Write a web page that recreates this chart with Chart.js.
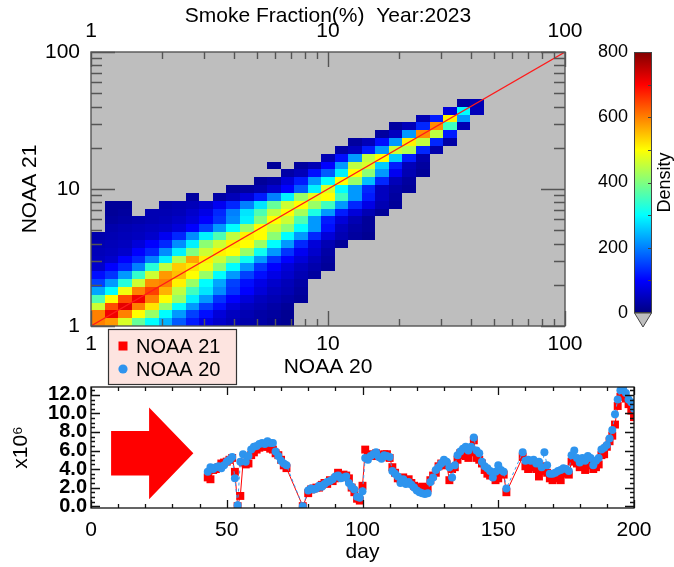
<!DOCTYPE html>
<html>
<head>
<meta charset="utf-8">
<script src="https://cdn.jsdelivr.net/npm/chart.js@4.4.1/dist/chart.umd.min.js"></script>
<style>
  html, body { margin: 0; padding: 0; background: #fff; }
  #page { position: relative; width: 674px; height: 567px; overflow: hidden; }
  #page canvas { position: absolute; }
</style>
</head>
<body>
<div id="page">
  <canvas id="heat" width="674" height="390" style="left:0;top:0"></canvas>
  <canvas id="cbar" width="114" height="300" style="left:560px;top:40px"></canvas>
  <canvas id="series" width="674" height="242" style="left:0;top:325px"></canvas>
</div>
<script>
const FONT = "'Liberation Sans', Arial, Helvetica, sans-serif";
Chart.defaults.font.family = FONT;
Chart.defaults.color = '#000';

// ---- top panel: 2D histogram, 35 log bins between 1 and 100 on each axis ----
const binCount = 35;
const axisMin = 1, axisMax = 100;
const logTicks = [1, 10, 100];
const logMinorTicks = [2, 3, 4, 5, 6, 7, 8, 9, 20, 30, 40, 50, 60, 70, 80, 90];
const densityMax = 800;
const colorbarTicks = [0, 200, 400, 600, 800];

// first filled column of each row (row 0 = bottom)
const heatRowStart = [0, 0, 0, 0, 0, 0, 0, 0, 0, 0, 0, 0, 1, 1, 1, 1, 7, 10, 12, 14, 13, 17, 18, 19, 21, 22, 24, 26, 27];
// density per cell, null = no data (grey)
const heatRows = [
  [600, 580, 470, 380, 300, 240, 170, 120, 80, 60, 45, 35, 30, 20, 15],
  [600, 710, 600, 500, 420, 300, 220, 150, 110, 70, 50, 40, 30, 25, 15],
  [460, 640, 720, 600, 520, 420, 300, 220, 150, 110, 70, 50, 40, 30, 20],
  [360, 500, 640, 710, 600, 500, 420, 290, 220, 140, 100, 70, 50, 40, 30, 20],
  [230, 300, 490, 600, 650, 560, 450, 350, 280, 210, 140, 100, 70, 50, 40, 25],
  [150, 220, 330, 460, 590, 600, 510, 420, 300, 230, 150, 110, 80, 60, 45, 30],
  [110, 140, 220, 340, 460, 580, 550, 500, 420, 300, 220, 150, 110, 80, 60, 40, 25],
  [60, 100, 130, 200, 330, 450, 540, 520, 490, 410, 300, 220, 140, 100, 70, 50, 35, 20],
  [50, 60, 100, 130, 200, 290, 440, 570, 510, 460, 400, 310, 220, 140, 100, 70, 45, 25],
  [45, 50, 60, 100, 130, 210, 290, 400, 460, 510, 500, 420, 310, 220, 140, 90, 60, 30],
  [40, 45, 50, 70, 100, 130, 210, 290, 410, 460, 510, 500, 420, 300, 220, 130, 70, 40, 20],
  [35, 40, 45, 50, 60, 90, 130, 210, 290, 360, 450, 510, 500, 410, 300, 220, 130, 70, 40, 25, 15],
  [35, 40, 45, 50, 55, 70, 100, 150, 220, 300, 420, 500, 460, 410, 300, 220, 110, 50, 30, 20],
  [25, 30, 35, 40, 45, 55, 70, 100, 140, 210, 290, 400, 500, 460, 360, 220, 120, 70, 40, 20],
  [20, 25, null, 40, 40, 45, 60, 80, 130, 200, 280, 360, 450, 500, 430, 320, 220, 120, 70, 40, 20],
  [20, 20, null, null, 35, 40, 45, 60, 90, 130, 200, 280, 380, 460, 500, 420, 350, 220, 130, 80, 40, 20],
  [25, null, 30, 45, 70, 120, 200, 290, 420, 480, 500, 350, 220, 120, 50, 25],
  [20, 25, 35, 60, 100, 170, 290, 470, 300, 220, 130, 50, 30, 20],
  [20, 30, 70, 120, 220, 300, 500, 420, 250, 130, 45, 25],
  [30, 45, 110, 170, 290, 500, 410, 220, 90, 40, 20],
  [20, null, 25, 40, 100, 220, 450, 470, 260, 120, 45, 25],
  [40, 110, 220, 450, 500, 260, 120, 35],
  [30, 50, 120, 220, 460, 440, 130, 35],
  [25, 45, 110, 220, 510, 450, 130, 30],
  [25, 50, 220, 590, 450, 120],
  [25, 45, 130, 590, 350, 40],
  [40, 120, 510, 220],
  [70, 300, 45],
  [25, 40]
];

// ---- bottom panel: daily totals (x10^6) ----
const days = [43, 44, 45, 46, 47, 48, 49, 50, 51, 52, 53, 54, 55, 56, 57, 58, 59, 60, 61, 62,
  63, 64, 65, 66, 67, 68, 69, 70, 71, 72, 78,
  80, 81, 82, 83, 84, 85, 86, 87, 88, 89, 90, 91, 92, 93, 94, 95, 96, 97, 98, 99,
  100, 101, 102, 103, 104, 105, 106, 107, 108, 109, 110, 111, 112, 113, 114, 115, 116, 117, 118, 119,
  120, 121, 122, 123, 124, 125, 126, 127, 128, 129, 130, 131, 132, 133, 134, 135, 136, 137, 138, 139,
  140, 141, 142, 143, 144, 145, 146, 147, 148, 149, 150, 151, 152, 153,
  159, 160, 161, 162, 163, 164, 165, 166, 167, 168, 169, 170, 171, 172, 173, 174, 175, 176, 177, 178,
  179, 180, 181, 182, 183, 184, 185, 186, 187, 188, 189, 190, 191, 192, 193, 194, 195, 196, 197, 198, 199, 200];
const noaa21 = [3.1, 2.9, 3.9, 4.0, 4.2, 4.6, 4.7, 4.8, 5.0, 5.2,
  3.7, 0.0, 1.1, 4.7, 4.5, 4.6, 5.5, 5.8, 6.1, 6.3,
  6.5, 6.4, 6.4, 6.2, 6.1, 5.7, 5.5, 5.0, 4.4, 4.1,
  0.0,
  1.4, 1.8, 1.9, 2.0, 2.0, 2.3, 2.5, 2.4, 2.8, 2.7,
  3.0, 3.6, 3.2, 3.4, 3.3, 3.0, 2.0, 1.5, 0.8, 0.6,
  2.2, 6.1, 5.6, 5.5, 5.4, 5.7, 5.5, 5.3, 5.6, 5.6,
  5.2, 4.2, 3.6, 3.0, 2.9, 3.1, 2.6, 2.9, 2.5, 2.2,
  2.0, 1.9, 2.1, 2.0, 1.9, 2.8, 3.3, 3.6, 4.3, 4.6,
  4.4, 4.5, 2.8, 4.0, 4.2, 5.0, 5.7, 5.5, 5.4, 5.2,
  5.8, 7.1, 5.2, 5.0, 4.6, 3.9, 3.5, 3.3, 3.4, 2.8,
  3.0, 3.5, 3.4, 1.5,
  5.3, 4.3, 4.0, 4.4, 4.2, 4.0, 3.2, 3.8, 4.3, 3.6,
  3.0, 2.8, 3.0, 3.2, 2.8, 3.5, 3.8, 3.4, 4.8, 5.0,
  4.6, 4.2, 4.6, 3.9, 4.4, 4.6, 4.0, 4.2, 4.5, 5.5,
  5.6, 6.4, 7.0, 7.6, 8.8, 10.8, 11.8, 12.2, 11.6, 11.0, 10.3, 9.6];
const noaa20 = [3.7, 4.2, 4.0, 4.2, 4.3, 4.1, 4.4, 4.8, 5.0, 5.3,
  3.0, 0.1, 4.8, 5.6, 4.8, 5.4, 6.1, 6.4, 6.5, 6.7,
  6.8, 6.7, 7.0, 6.8, 6.8, 5.9, 5.4, 4.9, 4.6, 4.4,
  0.0,
  1.7, 1.9, 1.8, 1.9, 2.2, 2.1, 2.4, 2.6, 2.7, 2.9,
  3.2, 3.3, 3.0, 3.1, 3.2, 2.5, 2.1, 1.8, 1.0, 0.9,
  1.6, 5.2, 5.0, 5.4, 5.6, 5.8, 5.3, 5.1, 5.5, 5.4,
  5.3, 3.8, 3.5, 3.2, 2.5, 2.9, 2.4, 2.6, 2.3, 2.0,
  1.7, 1.5, 1.4, 1.3, 1.4, 2.6, 3.1, 3.9, 4.2, 4.6,
  5.0, 4.8, 4.2, 3.1, 4.4, 5.5, 5.9, 6.2, 6.4, 6.0,
  6.4, 7.4, 6.0, 5.7, 4.8, 4.3, 4.1, 3.8, 3.1, 3.7,
  4.4, 3.9, 3.7, 1.9,
  5.8, 4.9, 5.0, 4.9, 5.0, 4.6, 4.8, 4.2, 5.8, 4.4,
  3.5, 3.5, 3.6, 3.8, 3.9, 4.1, 4.0, 3.8, 5.5, 6.0,
  5.2, 4.7, 5.2, 4.9, 5.4, 5.2, 4.4, 4.9, 5.2, 6.1,
  6.3, 6.6, 7.3, 8.2, 9.9, 11.5, 12.5, 12.8, 12.2, 11.5, 11.2, 10.5];
const dayTicks = [0, 50, 100, 150, 200];
const valueTicks = [0, 2, 4, 6, 8, 10, 12];
// block arrow, in [day, value] units
const arrowShape = [[7.4, 3.3], [21.4, 3.3], [21.4, 0.75], [37.7, 5.7], [21.4, 10.65], [21.4, 8.1], [7.4, 8.1]];

function binEdge(k) {
  return axisMin * Math.pow(axisMax / axisMin, k / binCount);
}

function jet(v) {
  const t = Math.max(0, Math.min(1, v / densityMax));
  const c = s => Math.round(255 * Math.max(0, Math.min(1, 1.5 - Math.abs(4 * t - s))));
  return `rgb(${c(3)},${c(2)},${c(1)})`;
}

const heatmapPlugin = {
  id: 'heatmap',
  beforeDatasetsDraw(chart) {
    const {ctx, chartArea: a, scales: {x, y}} = chart;
    ctx.save();
    ctx.fillStyle = '#bebebe';
    ctx.fillRect(a.left, a.top, a.right - a.left, a.bottom - a.top);
    heatRows.forEach((row, j) => {
      const y0 = Math.round(y.getPixelForValue(binEdge(j)));
      const y1 = Math.round(y.getPixelForValue(binEdge(j + 1)));
      row.forEach((v, k) => {
        if (v == null) return;
        const i = heatRowStart[j] + k;
        const x0 = Math.round(x.getPixelForValue(binEdge(i)));
        const x1 = Math.round(x.getPixelForValue(binEdge(i + 1)));
        ctx.fillStyle = jet(v);
        ctx.fillRect(x0, y1, x1 - x0, y0 - y1);
      });
    });
    ctx.restore();
  }
};

// IDL-like box with inward ticks on all four sides
const frameTicks = {
  id: 'frameTicks',
  afterDatasetsDraw(chart, args, o) {
    const {ctx, chartArea: a} = chart;
    const xs = chart.scales[o.xScale], ys = chart.scales[o.yScale];
    ctx.save();
    ctx.strokeStyle = o.color;
    ctx.lineWidth = o.lineWidth;
    ctx.beginPath();
    [[o.xMajor, o.xMajorLen], [o.xMinor, o.xMinorLen]].forEach(([vals, len]) => {
      vals.forEach(v => {
        const px = Math.round(xs.getPixelForValue(v)) + 0.5;
        ctx.moveTo(px, a.bottom); ctx.lineTo(px, a.bottom - len);
        ctx.moveTo(px, a.top); ctx.lineTo(px, a.top + len);
      });
    });
    [[o.yMajor, o.yMajorLen], [o.yMinor, o.yMinorLen]].forEach(([vals, len]) => {
      vals.forEach(v => {
        const py = Math.round(ys.getPixelForValue(v)) + 0.5;
        ctx.moveTo(a.left, py); ctx.lineTo(a.left + len, py);
        ctx.moveTo(a.right, py); ctx.lineTo(a.right - len, py);
      });
    });
    ctx.stroke();
    ctx.strokeRect(a.left, a.top, a.right - a.left, a.bottom - a.top);
    ctx.restore();
  }
};

const fixedTicks = list => scale => { scale.ticks = list.map(v => ({value: v})); };
const fixedWidth = w => s => { s.width = w; s.paddingTop = 0; s.paddingBottom = 0; };
const fixedHeight = h => s => { s.height = h; s.paddingLeft = 0; s.paddingRight = 0; };
const noGrid = {display: false, drawTicks: false};

// ---------- heatmap ----------
new Chart(document.getElementById('heat'), {
  type: 'scatter',
  data: {
    datasets: [{
      label: '1:1',
      data: [{x: axisMin, y: axisMin}, {x: axisMax, y: axisMax}],
      showLine: true,
      borderColor: '#ff1a1a',
      borderWidth: 1.2,
      pointRadius: 0
    }]
  },
  options: {
    responsive: false,
    animation: false,
    layout: {padding: {left: 0, right: 109, top: 0, bottom: 4}},
    plugins: {
      legend: {display: false},
      tooltip: {enabled: false},
      frameTicks: {
        xScale: 'x', yScale: 'y', color: '#555', lineWidth: 1.4,
        xMajor: logTicks, xMinor: logMinorTicks, xMajorLen: 15, xMinorLen: 7,
        yMajor: logTicks, yMinor: logMinorTicks, yMajorLen: 24, yMinorLen: 11
      }
    },
    scales: {
      x: {
        type: 'logarithmic', position: 'bottom', min: axisMin, max: axisMax,
        afterBuildTicks: fixedTicks(logTicks), afterFit: fixedHeight(60),
        grid: noGrid, border: {display: false},
        ticks: {font: {size: 21}, padding: 6, autoSkip: false, maxRotation: 0, callback: v => String(v)},
        title: {display: true, text: 'NOAA 20', font: {size: 21}, padding: {top: 0, bottom: 6}}
      },
      xTop: {
        type: 'logarithmic', position: 'top', min: axisMin, max: axisMax,
        afterBuildTicks: fixedTicks(logTicks), afterFit: fixedHeight(52),
        grid: noGrid, border: {display: false},
        ticks: {font: {size: 21}, padding: 8, autoSkip: false, maxRotation: 0, callback: v => String(v)},
        title: {display: true, text: 'Smoke Fraction(%)  Year:2023', font: {size: 21}, padding: {top: 4, bottom: 0}}
      },
      y: {
        type: 'logarithmic', position: 'left', min: axisMin, max: axisMax,
        afterBuildTicks: fixedTicks(logTicks), afterFit: fixedWidth(91),
        grid: noGrid, border: {display: false},
        ticks: {font: {size: 21}, padding: 11, autoSkip: false, callback: v => String(v)},
        title: {display: true, text: 'NOAA 21', font: {size: 21}, padding: {top: 18, bottom: 0}}
      }
    }
  },
  plugins: [heatmapPlugin, frameTicks]
});

// ---------- colour bar ----------
const colorbarDecor = {
  id: 'colorbarDecor',
  afterDatasetsDraw(chart, args, o) {
    const {ctx, chartArea: a, scales: {y}} = chart;
    ctx.save();
    ctx.strokeStyle = '#444';
    ctx.lineWidth = 1;
    ctx.strokeRect(a.left + 0.5, a.top + 0.5, a.right - a.left - 1, a.bottom - a.top - 1);
    ctx.beginPath();
    o.minorTicks.forEach(v => {
      const py = Math.round(y.getPixelForValue(v)) + 0.5;
      ctx.moveTo(a.right - 4, py); ctx.lineTo(a.right, py);
    });
    ctx.stroke();
    ctx.beginPath();
    ctx.moveTo(a.left + 0.5, a.bottom);
    ctx.lineTo(a.right - 0.5, a.bottom);
    ctx.lineTo((a.left + a.right) / 2, a.bottom + 14);
    ctx.closePath();
    ctx.fillStyle = '#bebebe';
    ctx.fill();
    ctx.stroke();
    ctx.translate(a.right + 13, (a.top + a.bottom) / 2);
    ctx.rotate(-Math.PI / 2);
    ctx.fillStyle = '#000';
    ctx.font = `18px ${FONT}`;
    ctx.textAlign = 'center';
    ctx.textBaseline = 'middle';
    ctx.fillText(o.text, 0, 0);
    ctx.restore();
  }
};

new Chart(document.getElementById('cbar'), {
  type: 'bar',
  data: {
    labels: [''],
    datasets: [{
      data: [[0, densityMax]],
      barPercentage: 1,
      categoryPercentage: 1,
      borderWidth: 0,
      backgroundColor: c => {
        const chart = c.chart;
        if (!chart.chartArea) return '#000';
        const y = chart.scales.y;
        const g = chart.ctx.createLinearGradient(0, y.getPixelForValue(0), 0, y.getPixelForValue(densityMax));
        [0, 0.125, 0.375, 0.625, 0.875, 1].forEach(t => g.addColorStop(t, jet(t * densityMax)));
        return g;
      }
    }]
  },
  options: {
    responsive: false,
    animation: false,
    layout: {padding: {left: 0, right: 22, top: 12, bottom: 27}},
    plugins: {
      legend: {display: false},
      tooltip: {enabled: false},
      colorbarDecor: {text: 'Density', minorTicks: [100, 200, 300, 400, 500, 600, 700]}
    },
    scales: {
      x: {display: false},
      y: {
        min: 0, max: densityMax,
        afterBuildTicks: fixedTicks(colorbarTicks), afterFit: fixedWidth(74),
        grid: noGrid, border: {display: false},
        ticks: {font: {size: 18}, padding: 6, autoSkip: false}
      }
    }
  },
  plugins: [colorbarDecor]
});

// ---------- time series ----------
const arrowPlugin = {
  id: 'arrow',
  beforeDatasetsDraw(chart) {
    const {ctx, scales: {x, y}} = chart;
    ctx.save();
    ctx.fillStyle = '#ff0000';
    ctx.beginPath();
    arrowShape.forEach(([d, v], k) => {
      const px = x.getPixelForValue(d), py = y.getPixelForValue(v);
      if (k === 0) ctx.moveTo(px, py); else ctx.lineTo(px, py);
    });
    ctx.closePath();
    ctx.fill();
    ctx.restore();
  }
};

const boxLegend = {
  id: 'boxLegend',
  afterDraw(chart, args, o) {
    const ctx = chart.ctx;
    ctx.save();
    ctx.fillStyle = o.fill;
    ctx.fillRect(o.left, o.top, o.width, o.height);
    ctx.strokeStyle = o.border;
    ctx.lineWidth = 1.2;
    ctx.strokeRect(o.left + 0.5, o.top + 0.5, o.width, o.height);
    ctx.font = `20px ${FONT}`;
    ctx.textBaseline = 'middle';
    chart.data.datasets.forEach((ds, k) => {
      const cy = o.top + o.firstRow + k * o.rowGap;
      const cx = o.left + o.markerX;
      ctx.fillStyle = ds.backgroundColor;
      ctx.beginPath();
      if (ds.pointStyle === 'rect') ctx.rect(cx - 4.5, cy - 4.5, 9, 9);
      else ctx.arc(cx, cy, 4.6, 0, Math.PI * 2);
      ctx.fill();
      ctx.fillStyle = '#000';
      ctx.fillText(ds.label, o.left + o.textX, cy + 1);
    });
    ctx.restore();
  }
};

const dayMinor = Array.from({length: 21}, (_, k) => k * 10);
const valueMinor = Array.from({length: 26}, (_, k) => k * 0.5);

new Chart(document.getElementById('series'), {
  type: 'line',
  data: {
    datasets: [
      {
        label: 'NOAA 21',
        data: days.map((d, i) => ({x: d, y: noaa21[i]})),
        borderColor: '#ff0000',
        backgroundColor: '#ff0000',
        borderWidth: 1,
        pointStyle: 'rect',
        pointRadius: 5.6,
        pointBorderWidth: 0,
        order: 2
      },
      {
        label: 'NOAA 20',
        data: days.map((d, i) => ({x: d, y: noaa20[i]})),
        borderColor: '#3d9cf0',
        backgroundColor: '#2e94ee',
        borderWidth: 1,
        borderDash: [3, 3],
        pointStyle: 'circle',
        pointRadius: 4,
        pointBorderWidth: 0,
        order: 1
      }
    ]
  },
  options: {
    responsive: false,
    animation: false,
    layout: {padding: {left: 0, right: 40, top: 62, bottom: 0}},
    plugins: {
      legend: {display: false},
      tooltip: {enabled: false},
      boxLegend: {left: 108, top: 4, width: 128, height: 55, fill: '#fde4e0', border: '#333',
                  firstRow: 17, rowGap: 23, markerX: 15, textX: 28},
      frameTicks: {
        xScale: 'x', yScale: 'y', color: '#111', lineWidth: 1.3,
        xMajor: dayTicks, xMinor: dayMinor, xMajorLen: 8, xMinorLen: 4,
        yMajor: valueTicks, yMinor: valueMinor, yMajorLen: 9, yMinorLen: 4
      }
    },
    scales: {
      x: {
        type: 'linear', min: 0, max: 200,
        afterBuildTicks: fixedTicks(dayTicks), afterFit: fixedHeight(59),
        grid: noGrid, border: {display: false},
        ticks: {font: {size: 21}, padding: 10, autoSkip: false, maxRotation: 0},
        title: {display: true, text: 'day', font: {size: 21}, padding: {top: 0, bottom: 2}}
      },
      y: {
        min: -0.2, max: 12.85,
        afterBuildTicks: fixedTicks(valueTicks), afterFit: fixedWidth(91),
        grid: noGrid, border: {display: false},
        ticks: {font: {size: 20, weight: 'bold'}, padding: 4, autoSkip: false, callback: v => v.toFixed(1)},
        title: {display: true, text: 'x10⁶', font: {size: 21}, padding: {top: 9, bottom: 0}}
      }
    }
  },
  plugins: [arrowPlugin, frameTicks, boxLegend]
});
</script>
</body>
</html>
